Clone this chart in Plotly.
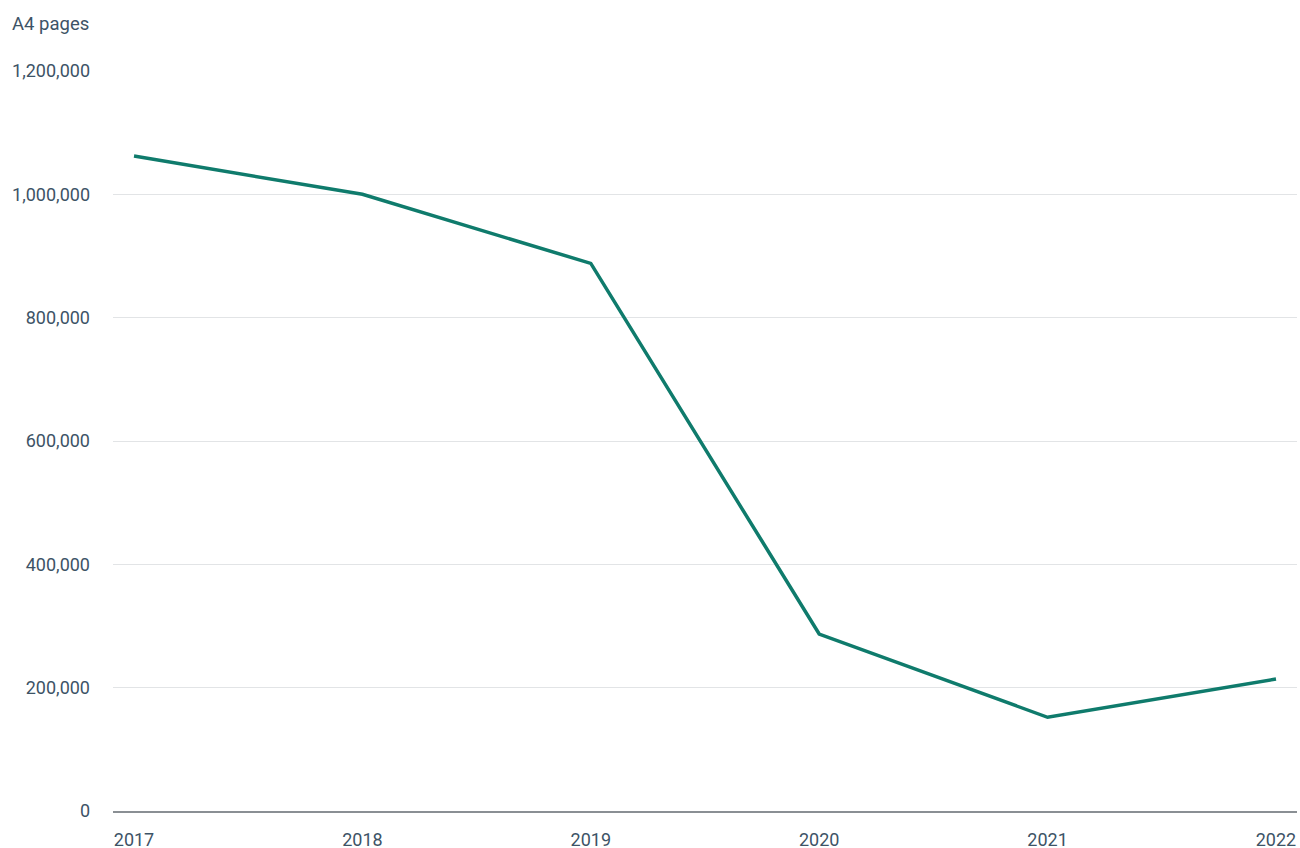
import plotly.graph_objects as go

years = [2017, 2018, 2019, 2020, 2021, 2022]
pages = [1062000, 1000000, 888000, 287000, 152000, 214000]
y_ticks = [0, 200000, 400000, 600000, 800000, 1000000, 1200000]
y_tick_labels = ["0", "200,000", "400,000", "600,000", "800,000", "1,000,000", "1,200,000"]
y_title = "A4 pages"

text_color = "#3d5366"
line_color = "#0f7b6c"

fig = go.Figure()
fig.add_trace(go.Scatter(
    x=years, y=pages, mode="lines",
    line=dict(color=line_color, width=3.5),
    hoverinfo="x+y",
))

fig.update_layout(
    width=1300, height=848,
    margin=dict(l=113, r=3, t=71, b=37),
    paper_bgcolor="white", plot_bgcolor="white",
    font=dict(family="Roboto", size=18, color=text_color),
    showlegend=False,
    xaxis=dict(
        range=[2016.908, 2022.092],
        tickvals=years, ticktext=[str(y) for y in years],
        showgrid=False, zeroline=False,
        showline=True, linecolor="#8a8f94", linewidth=1.5,
        ticks="", ticklabelstandoff=12,
        automargin=False, fixedrange=True,
    ),
    yaxis=dict(
        range=[0, 1200000],
        tickvals=y_ticks, ticktext=y_tick_labels,
        showgrid=True, gridcolor="#e2e4e6", gridwidth=1,
        zeroline=False, showline=False,
        ticks="", ticklabelstandoff=22,
        automargin=False, fixedrange=True,
    ),
    annotations=[dict(
        text=y_title, xref="paper", yref="paper",
        x=(-113 + 10) / 1184, y=1 + 47 / 740, xanchor="left", yanchor="middle",
        showarrow=False, font=dict(size=18.5, color=text_color),
    )],
)

fig.write_html(
    "out.html",
    config={"displayModeBar": False},
    post_script="document.body.style.margin='0';document.body.style.overflow='hidden';",
)
